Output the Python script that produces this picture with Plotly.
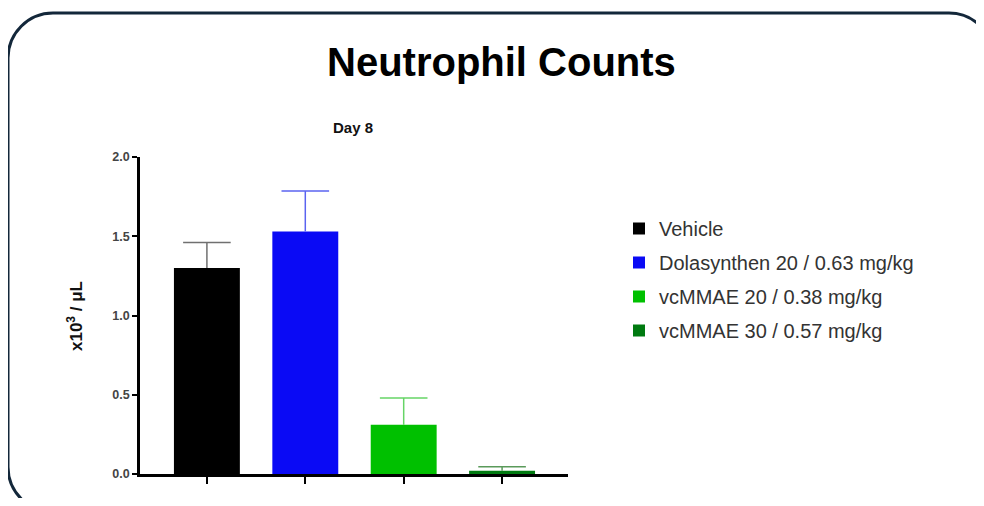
import plotly.graph_objects as go

OFF = 8  # page body margin
W, H = 984 - 2 * OFF, 506 - 2 * OFF

groups = ["Vehicle", "Dolasynthen 20 / 0.63 mg/kg", "vcMMAE 20 / 0.38 mg/kg", "vcMMAE 30 / 0.57 mg/kg"]
means = [1.30, 1.53, 0.31, 0.02]
errors = [0.16, 0.255, 0.17, 0.025]
bar_colors = ["#000000", "#0a0af5", "#00c000", "#007a10"]
err_colors = ["#707070", "#5a63f0", "#66d466", "#5a9a5a"]
y_ticks = [0.0, 0.5, 1.0, 1.5, 2.0]

fig = go.Figure()
for i, g in enumerate(groups):
    fig.add_trace(go.Bar(
        x=[g], y=[means[i]], name=g, width=0.67,
        marker=dict(color=bar_colors[i], line=dict(width=0)),
        error_y=dict(type="data", array=[errors[i]], symmetric=False, arrayminus=[0],
                     color=err_colors[i], thickness=1.5, width=0),
        legendgroup=g,
    ))
for i, g in enumerate(groups):
    # cap at top of the error bar
    fig.add_trace(go.Scatter(
        x=[g], y=[means[i] + errors[i]], mode="markers", showlegend=False, hoverinfo="skip",
        marker=dict(symbol="line-ew", size=34, color=err_colors[i],
                    line=dict(color=err_colors[i], width=1.5)),
    ))

def px(x):
    return (x - OFF) / W

def py(y):
    return 1 - (y - OFF) / H

# rounded frame (screen pixel coordinates); right side lies off the page
x0, y0, x1, y1, r = 8, 13, 994, 512, 45
k = 0.45
path = (
    f"M {px(x0 + r)},{py(y1)} "
    f"C {px(x0 + r * k)},{py(y1)} {px(x0)},{py(y1 - r * k)} {px(x0)},{py(y1 - r)} "
    f"L {px(x0)},{py(y0 + r)} "
    f"C {px(x0)},{py(y0 + r * k)} {px(x0 + r * k)},{py(y0)} {px(x0 + r)},{py(y0)} "
    f"L {px(x1 - r)},{py(y0)} "
    f"C {px(x1 - r * k)},{py(y0)} {px(x1)},{py(y0 + r * k)} {px(x1)},{py(y0 + r)}"
)

fig.update_layout(
    width=W, height=H,
    margin=dict(l=0, r=0, t=0, b=0),
    paper_bgcolor="white", plot_bgcolor="white",
    barmode="overlay",
    showlegend=True,
    legend=dict(x=px(619), y=py(209), xanchor="left", yanchor="top",
                font=dict(family="Liberation Sans, Arial, sans-serif", size=20, color="#333333"),
                tracegroupgap=5, bgcolor="rgba(0,0,0,0)"),
    font=dict(family="Liberation Sans, Arial, sans-serif"),
    xaxis=dict(domain=[px(140), px(568)], range=[-0.68, 3.67], showticklabels=False,
               showline=True, linecolor="#000000", linewidth=2.5,
               ticks="outside", ticklen=7, tickwidth=1.5, tickcolor="#000000",
               showgrid=False, zeroline=False, automargin=False, fixedrange=True),
    yaxis=dict(domain=[py(474), py(157)], range=[0, 2.0], tickvals=y_ticks,
               ticktext=[f"{v:.1f}" for v in y_ticks],
               tickfont=dict(size=12.5, color="#444444", family="Liberation Sans, Arial, sans-serif", weight="bold"),
               showline=True, linecolor="#000000", linewidth=2.5,
               ticks="outside", ticklen=5, tickwidth=2, tickcolor="#000000",
               showgrid=False, zeroline=False, automargin=False, fixedrange=True),
    shapes=[dict(type="path", xref="paper", yref="paper", path=path,
                 line=dict(color="#13273a", width=3), fillcolor="rgba(0,0,0,0)", layer="below")],
    annotations=[
        dict(text="<b>Neutrophil Counts</b>", x=px(501), y=py(62), xref="paper", yref="paper",
             xanchor="center", yanchor="middle", showarrow=False,
             font=dict(family="Liberation Sans Narrow, Arial Narrow, Liberation Sans, sans-serif", size=40, color="#000000")),
        dict(text="<b>Day 8</b>", x=px(353), y=py(127), xref="paper", yref="paper",
             xanchor="center", yanchor="middle", showarrow=False,
             font=dict(size=15, color="#111111")),
        dict(text="<b>x10<sup>3</sup> / μL</b>", x=px(75), y=py(316), xref="paper", yref="paper",
             xanchor="center", yanchor="middle", showarrow=False, textangle=-90,
             font=dict(size=17, color="#111111")),
    ],
)

fig.write_html("out.html")
